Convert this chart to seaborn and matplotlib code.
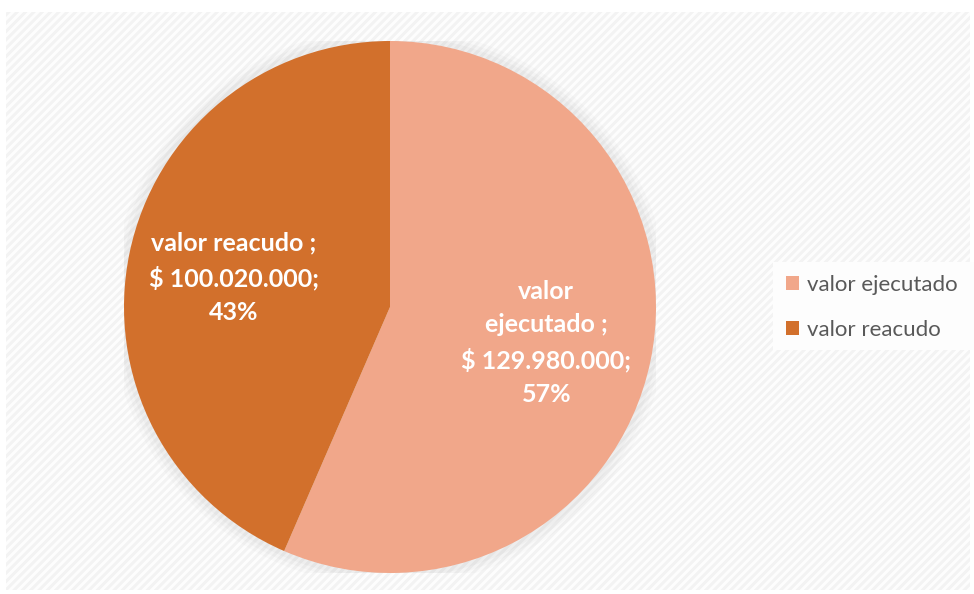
import numpy as np
import matplotlib
matplotlib.use("Agg")
import matplotlib.pyplot as plt
import seaborn as sns
from matplotlib.patches import Rectangle

categories = ["valor ejecutado", "valor reacudo"]
values = [129980000, 100020000]
colors = ["#F1A78A", "#D2702C"]
label_texts = ["valor\nejecutado ;\n$ 129.980.000;\n57%", "valor reacudo ;\n$ 100.020.000;\n43%"]

sns.set_theme(style="white")
plt.rcParams['font.family'] = ['Lato', 'DejaVu Sans']
plt.rcParams['hatch.linewidth'] = 2.0

W, H = 974, 594
fig = plt.figure(figsize=(W / 100, H / 100), dpi=100)
fig.patch.set_facecolor("white")

# background panel
bg = fig.add_axes([6 / W, 1 - 590 / H, 964 / W, 578 / H])
bg.set_facecolor("#F3F3F3")
bg.add_patch(Rectangle((0, 0), 1, 1, transform=bg.transAxes, facecolor="none",
                       edgecolor="white", hatch="////", linewidth=0, alpha=0.9))
bg.set_xticks([]); bg.set_yticks([])
for s in bg.spines.values():
    s.set_visible(False)

# pie
cx, cy, r = 390, 307, 266
ax = fig.add_axes([(cx - r) / W, 1 - (cy + r) / H, 2 * r / W, 2 * r / H])
ax.set_facecolor("none")

# soft shadow
for rad, a in [(1.05, 0.03), (1.035, 0.04), (1.02, 0.05)]:
    ax.add_patch(plt.Circle((0.0, 0.0), rad, color="#888888", alpha=a, lw=0, zorder=0))

wedges, _ = ax.pie(values, colors=colors, startangle=90, counterclock=False,
                   radius=1.0, wedgeprops=dict(linewidth=0))
for w in wedges:
    w.set_zorder(2)
ax.set_xlim(-1.0, 1.0)
ax.set_ylim(-1.0, 1.0)
ax.set_aspect("equal")
ax.axis("off")

for w, txt in zip(wedges, label_texts):
    mid = np.deg2rad((w.theta1 + w.theta2) / 2)
    x, y = 0.6 * np.cos(mid), 0.6 * np.sin(mid) - 0.012
    ax.text(x, y, txt, ha="center", va="center", color="white", fontsize=18,
            fontweight="bold", linespacing=1.55, zorder=5)

# legend box
leg_ax = fig.add_axes([773 / W, 1 - 350 / H, 201 / W, 88 / H])
leg_ax.set_facecolor("#FDFDFD")
leg_ax.set_xticks([]); leg_ax.set_yticks([])
for s in leg_ax.spines.values():
    s.set_visible(False)
leg = fig.legend(wedges, categories, loc="center left",
                 bbox_to_anchor=(786 / W, 1 - 307.5 / H), frameon=False,
                 fontsize=16, labelcolor="#595959", handlelength=0.6,
                 handleheight=0.6, handletextpad=0.35, labelspacing=1.15,
                 borderaxespad=0, borderpad=0)

fig.savefig("out.png", dpi=100, facecolor=fig.get_facecolor())
